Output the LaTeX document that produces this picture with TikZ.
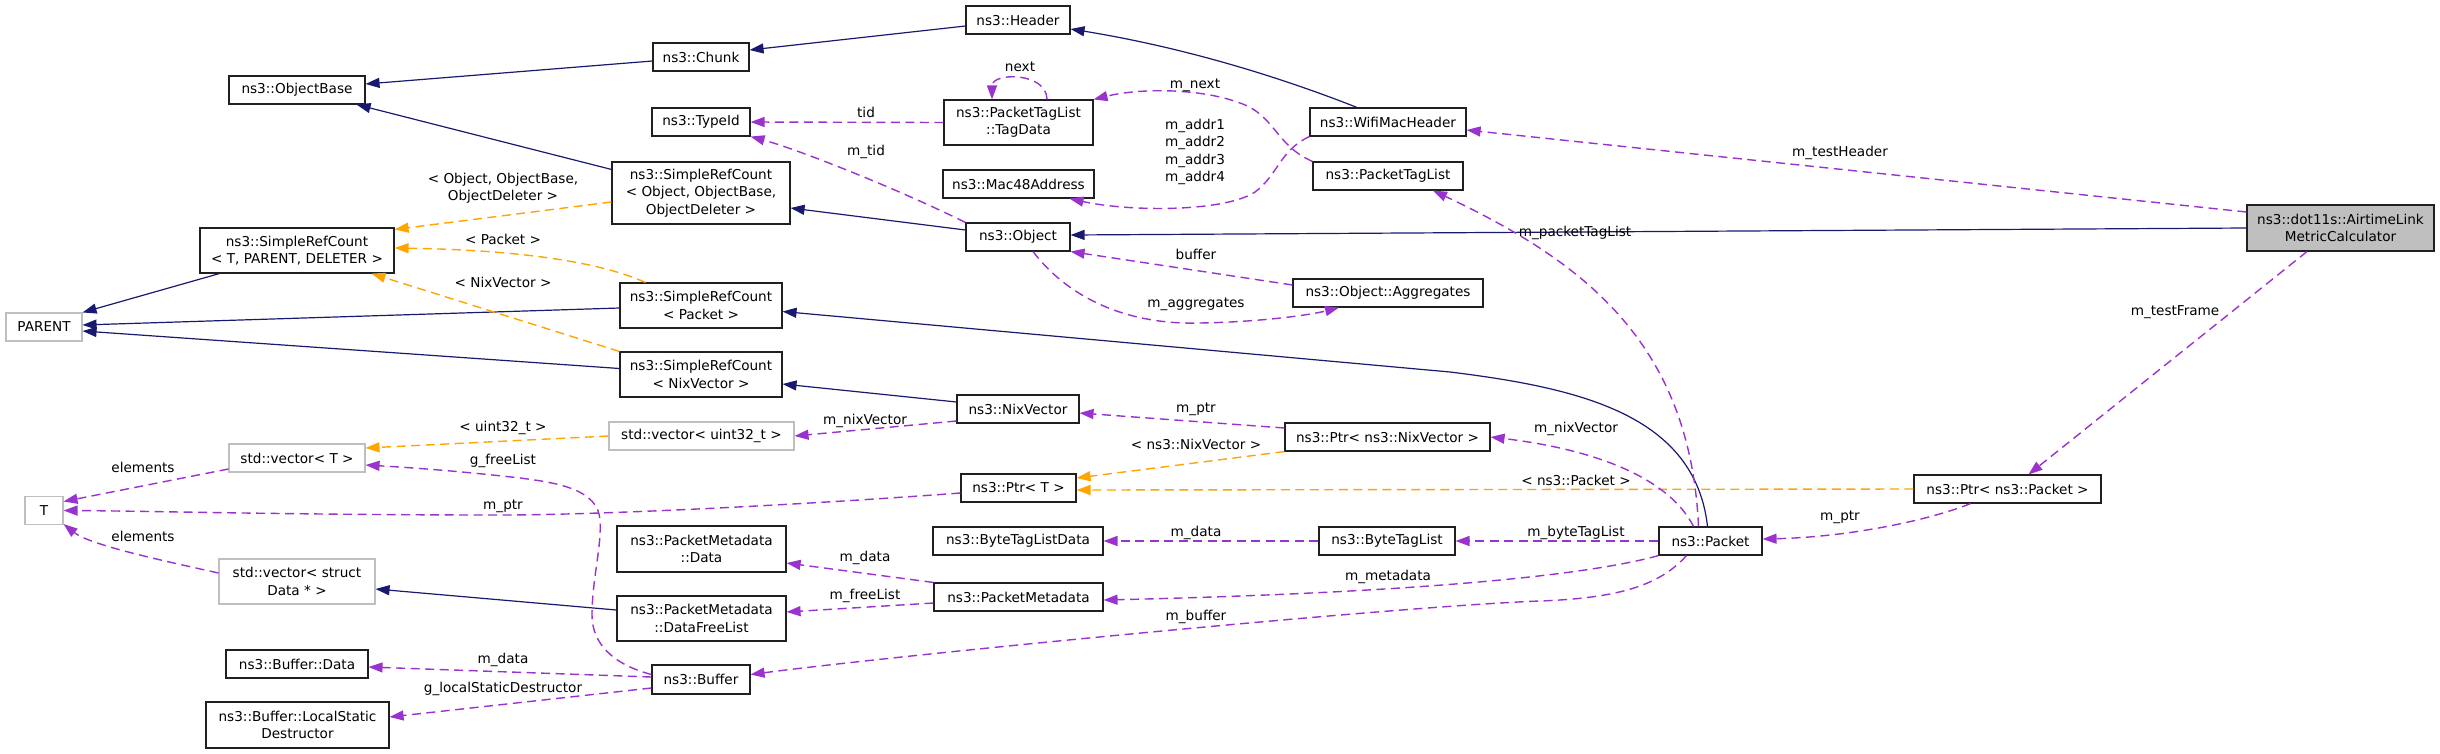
\documentclass[tikz,border=0pt]{standalone}
\usepackage{fontspec}
\newfontfamily\djfont{DejaVu Sans}
\usetikzlibrary{arrows.meta,calc}
\definecolor{navy}{HTML}{191970}
\definecolor{orch}{HTML}{9A32CD}
\definecolor{orng}{HTML}{FFA500}
\definecolor{gborder}{HTML}{BFBFBF}
\definecolor{almcgray}{HTML}{BFBFBF}
\definecolor{bord}{HTML}{202020}
\begin{document}
\begin{tikzpicture}[x=1pt,y=-1pt,
  every node/.style={font=\djfont\fontsize{13.6}{17.4}\selectfont},
  box/.style={draw=bord, fill=white, line width=1.1pt, inner sep=0pt, align=center, minimum height=28pt},
  gbox/.style={box, draw=gborder},
  arrowtip/.style={-{Triangle[length=14pt,width=10pt]}},
  inh/.style={draw=navy, line width=1.2pt, arrowtip},
  usee/.style={draw=orch, line width=1.4pt, dash pattern=on 9pt off 5.5pt, arrowtip},
  tmpl/.style={draw=orng, line width=1.4pt, dash pattern=on 9pt off 5.5pt, arrowtip},
  lbl/.style={inner sep=0pt, anchor=base},
  lblm/.style={inner sep=0pt, anchor=center, align=center},
]
\useasboundingbox[fill=white] (0,0) rectangle (2440,753);

% nodes
\node[box, minimum width=104pt] (Header) at (1018,20) {ns3::Header};
\node[box, minimum width=96pt] (Chunk) at (701,57) {ns3::Chunk};
\node[box, minimum width=136pt] (ObjectBase) at (297,90) {ns3::ObjectBase};
\node[box, minimum width=98pt] (TypeId) at (701,122) {ns3::TypeId};
\node[box, minimum width=149pt, minimum height=45pt] (TagData) at (1018.5,122.5) {ns3::PacketTagList\\::TagData};
\node[box, minimum width=156pt] (Wifi) at (1388,122) {ns3::WifiMacHeader};
\node[box, minimum width=151pt] (Mac48) at (1018.5,184) {ns3::Mac48Address};
\node[box, minimum width=150pt] (PTL) at (1388,176) {ns3::PacketTagList};
\node[box, minimum width=178pt, minimum height=62pt] (SRCObj) at (701,193) {ns3::SimpleRefCount\\< Object, ObjectBase,\\ObjectDeleter >};
\node[box, minimum width=104pt] (Object) at (1018,237) {ns3::Object};
\node[box, fill=almcgray, minimum width=187pt, minimum height=46pt] (ALMC) at (2340.5,228) {ns3::dot11s::AirtimeLink\\MetricCalculator};
\node[box, minimum width=194pt, minimum height=45pt] (SRCT) at (297,250.5) {ns3::SimpleRefCount\\< T, PARENT, DELETER >};
\node[box, minimum width=190pt] (Aggregates) at (1388,293) {ns3::Object::Aggregates};
\node[box, minimum width=162pt, minimum height=45pt] (SRCPacket) at (701,305.5) {ns3::SimpleRefCount\\< Packet >};
\node[gbox, minimum width=76pt] (PARENT) at (44,327) {PARENT};
\node[box, minimum width=162pt, minimum height=45pt] (SRCNix) at (701,374.5) {ns3::SimpleRefCount\\< NixVector >};
\node[box, minimum width=122pt] (NixVector) at (1018,409) {ns3::NixVector};
\node[gbox, minimum width=185pt] (vecuint) at (701.5,436) {std::vector< uint32\_t >};
\node[box, minimum width=205pt] (PtrNix) at (1387.5,437) {ns3::Ptr< ns3::NixVector >};
\node[gbox, minimum width=136pt] (vecT) at (297,458) {std::vector< T >};
\node[box, minimum width=115pt] (PtrT) at (1018.5,488) {ns3::Ptr< T >};
\node[box, minimum width=187pt] (PtrPacket) at (2007.5,489) {ns3::Ptr< ns3::Packet >};
\node[gbox, minimum width=38pt] (T) at (44,510.5) {T};
\node[box, minimum width=169pt, minimum height=46pt] (PMData) at (701.5,549) {ns3::PacketMetadata\\::Data};
\node[box, minimum width=170pt] (BTLD) at (1018,541) {ns3::ByteTagListData};
\node[box, minimum width=136pt] (BTL) at (1387,541) {ns3::ByteTagList};
\node[box, minimum width=103pt] (Packet) at (1710.5,541) {ns3::Packet};
\node[gbox, minimum width=156pt, minimum height=45pt] (vecData) at (297,581.5) {std::vector< struct\\Data * >};
\node[box, minimum width=169pt] (PM) at (1018.5,597) {ns3::PacketMetadata};
\node[box, minimum width=169pt, minimum height=45pt] (DFL) at (701.5,618.5) {ns3::PacketMetadata\\::DataFreeList};
\node[box, minimum width=142pt] (BufData) at (297,664) {ns3::Buffer::Data};
\node[box, minimum width=98pt, minimum height=29pt] (Buffer) at (701,679.5) {ns3::Buffer};
\node[box, minimum width=183pt, minimum height=46pt] (LSD) at (297.5,725) {ns3::Buffer::LocalStatic\\Destructor};

% inheritance
\draw[inh] ($(Header.west)+(0,6)$) -- ($(Chunk.east)+(0,-7)$);
\draw[inh] ($(Chunk.west)+(0,4)$) -- ($(ObjectBase.east)+(0,-6)$);
\draw[inh] ($(SRCObj.north west)+(0,8)$) -- ($(ObjectBase.south east)+(-9,0)$);
\draw[inh] ($(Object.west)+(0,-7)$) -- ($(SRCObj.east)+(0,15)$);
\draw[inh] (ALMC.west) -- ($(Object.east)+(0,-2)$);
\draw[inh] ($(Wifi.north)+(-31,0)$) .. controls (1300,85) and (1200,50) .. ($(Header.east)+(0,9)$);
\draw[inh] ($(SRCT.south west)+(20,0)$) -- (PARENT.north east);
\draw[inh] ($(SRCPacket.west)+(0,2.5)$) -- ($(PARENT.east)+(0,-2)$);
\draw[inh] ($(SRCNix.west)+(0,-6)$) -- ($(PARENT.east)+(0,4)$);
\draw[inh] ($(Packet.north)+(-3,0)$) .. controls (1695,415) and (1580,388) .. (1450,372) -- ($(SRCPacket.east)+(0,6)$);
\draw[inh] ($(NixVector.west)+(0,-7)$) -- ($(SRCNix.east)+(0,9.5)$);
\draw[inh] ($(DFL.west)+(0,-8.5)$) -- ($(vecData.east)+(0,7.5)$);

% template instances
\draw[tmpl] ($(SRCObj.west)+(0,9)$) -- ($(SRCT.north east)+(0,2)$);
\draw[tmpl] ($(SRCPacket.north west)+(26,0)$) .. controls (600,262) and (520,250) .. ($(SRCT.east)+(0,-2.5)$);
\draw[tmpl] (SRCNix.north west) -- ($(SRCT.south east)+(-23,0)$);
\draw[tmpl] (vecuint.west) -- ($(vecT.east)+(0,-10)$);
\draw[tmpl] (PtrNix.south west) -- ($(PtrT.east)+(0,-10)$);
\draw[tmpl] (PtrPacket.west) -- ($(PtrT.east)+(0,2)$);

% usage
\draw[usee] (TagData.west) -- (TypeId.east);
\draw[usee] (Object.north west) .. controls (900,190) and (800,150) .. (TypeId.south east);
\draw[usee] ($(TagData.north)+(28.5,0)$) .. controls (1047,72) and (992,72) .. ($(TagData.north)+(-26.5,0)$);
\draw[usee] (PTL.north west) .. controls (1275,145) and (1275,115) .. (1240,103) .. controls (1200,88) and (1140,88) .. (TagData.north east);
\draw[usee] (Wifi.south west) .. controls (1280,150) and (1278,175) .. (1255,192) .. controls (1225,212) and (1130,212) .. ($(Mac48.south east)+(-25,0)$);
\draw[usee] ($(Aggregates.west)+(0,-8)$) -- (Object.south east);
\draw[usee] ($(Object.south)+(15,0)$) .. controls (1070,300) and (1130,325) .. (1200,323) .. controls (1260,322) and (1310,315) .. ($(Aggregates.south)+(-49,0)$);
\draw[usee] ($(Packet.north)+(-12,0)$) .. controls (1690,340) and (1580,260) .. ($(PTL.south)+(45,0)$);
\draw[usee] ($(Packet.north)+(-17,0)$) .. controls (1670,480) and (1600,450) .. (PtrNix.east);
\draw[usee] (Packet.west) -- (BTL.east);
\draw[usee] (BTL.west) -- (BTLD.east);
\draw[usee] (Packet.south west) .. controls (1600,572) and (1450,592) .. ($(PM.east)+(0,3)$);
\draw[usee] ($(Packet.south)+(-24,0)$) .. controls (1660,585) and (1620,598) .. (1540,601) .. controls (1400,606) and (900,655) .. ($(Buffer.east)+(0,-5)$);
\draw[usee] (PM.north west) -- ($(PMData.east)+(0,14)$);
\draw[usee] ($(PM.west)+(0,6)$) -- ($(DFL.east)+(0,-6.5)$);
\draw[usee] ($(Buffer.west)+(0,-2.5)$) -- ($(BufData.east)+(0,3)$);
\draw[usee] ($(Buffer.west)+(0,8.5)$) -- ($(LSD.east)+(0,-8)$);
\draw[usee] ($(Buffer.west)+(0,-5)$) .. controls (615,665) and (592,645) .. (592,615) .. controls (592,580) and (602,545) .. (600,520) .. controls (598,490) and (560,483) .. (520,478) .. controls (450,470) and (400,467) .. ($(vecT.east)+(0,7)$);
\draw[usee] ($(vecT.west)+(0,11)$) -- ($(T.east)+(0,-9)$);
\draw[usee] ($(vecData.west)+(0,-8.5)$) .. controls (160,560) and (90,545) .. ($(T.south east)+(0,-1)$);
\draw[usee] ($(PtrT.west)+(0,5)$) .. controls (800,505) and (600,515) .. (500,515) .. controls (300,515) and (150,511) .. (T.east);
\draw[usee] ($(PtrNix.west)+(0,-9)$) -- ($(NixVector.east)+(0,4)$);
\draw[usee] ($(NixVector.west)+(0,12)$) -- (vecuint.east);
\draw[usee] ($(PtrPacket.south)+(-37,0)$) .. controls (1930,520) and (1850,537) .. ($(Packet.east)+(0,-2)$);
\draw[usee] ($(ALMC.west)+(0,-16)$) -- ($(Wifi.east)+(0,8)$);
\draw[usee] ($(ALMC.south)+(-33.5,0)$) -- ($(PtrPacket.north)+(21,0)$);

% labels
\node[lblm] at (503,188) {< Object, ObjectBase,\\ObjectDeleter >};
\node[lbl] at (503,244) {< Packet >};
\node[lbl] at (503,287) {< NixVector >};
\node[lbl] at (1020,71) {next};
\node[lbl] at (1195,88) {m\_next};
\node[lbl] at (866,117) {tid};
\node[lbl] at (866,155) {m\_tid};
\node[lblm] at (1195,152) {m\_addr1\\m\_addr2\\m\_addr3\\m\_addr4};
\node[lbl] at (1196,259) {buffer};
\node[lbl] at (1196,307) {m\_aggregates};
\node[lbl] at (1575,236) {m\_packetTagList};
\node[lbl] at (1840,156) {m\_testHeader};
\node[lbl] at (2175,315) {m\_testFrame};
\node[lbl] at (503,431) {< uint32\_t >};
\node[lbl] at (503,464) {g\_freeList};
\node[lbl] at (143,472) {elements};
\node[lbl] at (503,509) {m\_ptr};
\node[lbl] at (143,541) {elements};
\node[lbl] at (503,663) {m\_data};
\node[lbl] at (503,692) {g\_localStaticDestructor};
\node[lbl] at (865,424) {m\_nixVector};
\node[lbl] at (1196,412) {m\_ptr};
\node[lbl] at (1196,449) {< ns3::NixVector >};
\node[lbl] at (1576,432) {m\_nixVector};
\node[lbl] at (1576,485) {< ns3::Packet >};
\node[lbl] at (1196,536) {m\_data};
\node[lbl] at (1576,536) {m\_byteTagList};
\node[lbl] at (865,561) {m\_data};
\node[lbl] at (865,599) {m\_freeList};
\node[lbl] at (1388,580) {m\_metadata};
\node[lbl] at (1196,620) {m\_buffer};
\node[lbl] at (1840,520) {m\_ptr};
\end{tikzpicture}
\end{document}
